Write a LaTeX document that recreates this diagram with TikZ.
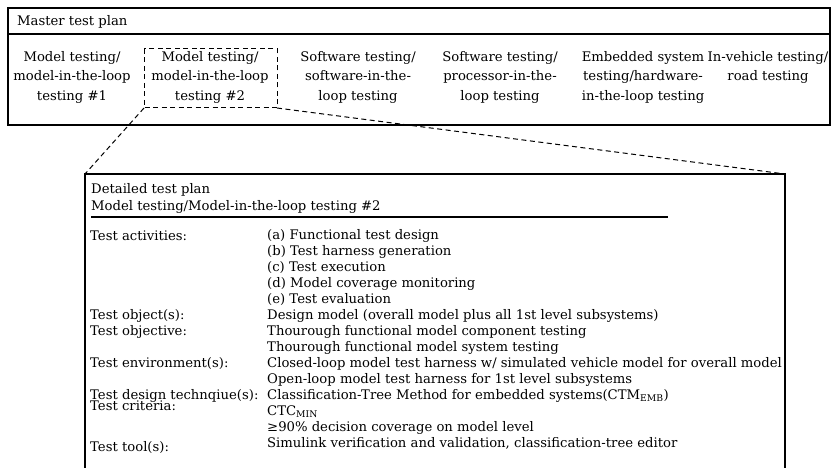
\documentclass[tikz,border=0pt]{standalone}
\usepackage{fontspec}
\setmainfont{DejaVu Serif}
\begin{document}
\begin{tikzpicture}[x=1pt,y=-1pt,
  frame/.style={line width=1.1pt},
  dashline/.style={line width=1pt,dash pattern=on 5pt off 3.5pt},
  txt/.style={inner sep=0pt,anchor=base west,font=\fontsize{13.2}{16}\selectfont},
  col/.style={inner sep=0pt,anchor=north,align=center,font=\fontsize{13.2}{19.5}\selectfont}]
\useasboundingbox (0,0) rectangle (832,468);
% master box
\draw[frame] (8,8) rectangle (830,125);
\draw[frame] (8,34) -- (830,34);
\node[txt] (mtp) at (17,26) {Master test plan};
\node[col] (c1) at (72,51) {Model testing/\\model-in-the-loop\\testing \#1};
\node[col] (c2) at (210,51) {Model testing/\\model-in-the-loop\\testing \#2};
\node[col] (c3) at (358,51) {Software testing/\\software-in-the-\\loop testing};
\node[col] (c4) at (500,51) {Software testing/\\processor-in-the-\\loop testing};
\node[col] (c5) at (643,51) {Embedded system\\testing/hardware-\\in-the-loop testing};
\node[col] (c6) at (768,51) {In-vehicle testing/\\road testing};
% dashed selection
\coordinate (dtl) at (144,49);
\coordinate (dbr) at (277,108);
\coordinate (dbl) at (144,108);
\draw[dashline] (dtl) rectangle (dbr);
% detailed box
\coordinate (ptl) at (85,174);
\coordinate (ptr) at (785,174);
\coordinate (pbl) at (85,468);
\coordinate (pbr) at (785,468);
\draw[frame] (pbl) -- (ptl) -- (ptr) -- (pbr);
\draw[dashline] (dbl) -- (ptl);
\draw[dashline] (dbr) -- (ptr);
\draw[frame] (91,217) -- (668,217);
\node[txt] (h1) at (91,193) {Detailed test plan};
\node[txt] (h2) at (91,210) {Model testing/Model-in-the-loop testing \#2};
% labels
\node[txt] (l1) at (90,240) {Test activities:};
\node[txt] (l2) at (90,319) {Test object(s):};
\node[txt] (l3) at (90,335) {Test objective:};
\node[txt] (l4) at (90,367) {Test environment(s):};
\node[txt] (l5) at (90,399) {Test design technqiue(s):};
\node[txt] (l6) at (90,410.5) {Test criteria:};
\node[txt] (l7) at (90,451) {Test tool(s):};
% values
\node[txt] (v1) at (267,239) {(a) Functional test design};
\node[txt] (v2) at (267,255) {(b) Test harness generation};
\node[txt] (v3) at (267,271) {(c) Test execution};
\node[txt] (v4) at (267,287) {(d) Model coverage monitoring};
\node[txt] (v5) at (267,303) {(e) Test evaluation};
\node[txt] (v6) at (267,319) {Design model (overall model plus all 1st level subsystems)};
\node[txt] (v7) at (267,335) {Thourough functional model component testing};
\node[txt] (v8) at (267,351) {Thourough functional model system testing};
\node[txt] (v9) at (267,367) {Closed-loop model test harness w/ simulated vehicle model for overall model};
\node[txt] (v10) at (267,383) {Open-loop model test harness for 1st level subsystems};
\node[txt] (v11) at (267,399) {Classification-Tree Method for embedded systems(CTM\textsubscript{EMB})};
\node[txt] (v12) at (267,415) {CTC\textsubscript{MIN}};
\node[txt] (v13) at (267,431) {≥90\% decision coverage on model level};
\node[txt] (v14) at (267,447) {Simulink verification and validation, classification-tree editor};
\end{tikzpicture}
\end{document}
